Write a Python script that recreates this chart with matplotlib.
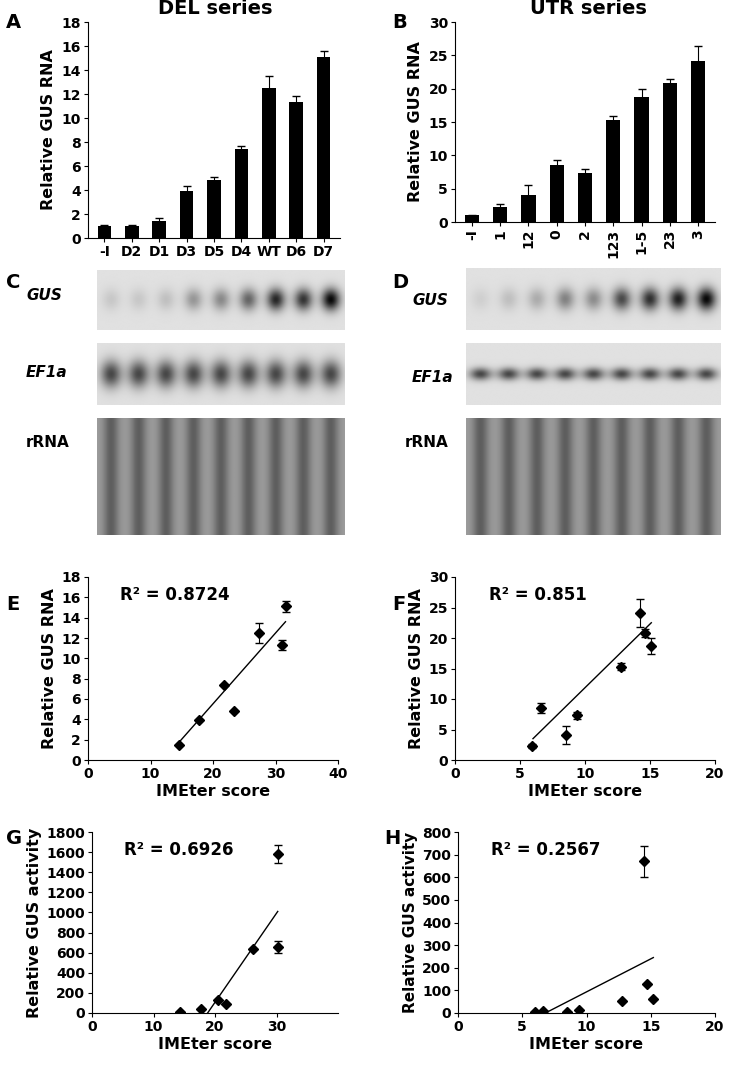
import numpy as np
import matplotlib
matplotlib.use("Agg")
import matplotlib.pyplot as plt

del_labels = ["-I", "D2", "D1", "D3", "D5", "D4", "WT", "D6", "D7"]
del_vals = [1.0, 1.0, 1.4, 3.9, 4.8, 7.4, 12.5, 11.3, 15.1]
del_err = [0.05, 0.05, 0.3, 0.4, 0.3, 0.3, 1.0, 0.5, 0.5]
utr_labels = ["-I", "1", "12", "0", "2", "123", "1-5", "23", "3"]
utr_vals = [1.0, 2.3, 4.1, 8.5, 7.3, 15.3, 18.7, 20.8, 24.1]
utr_err = [0.1, 0.4, 1.4, 0.8, 0.6, 0.6, 1.3, 0.7, 2.3]

e_x = [14.5, 17.8, 21.8, 23.3, 27.3, 31.1, 31.6]
e_y = [1.5, 3.9, 7.4, 4.8, 12.5, 11.3, 15.1]
e_err = [0, 0, 0, 0, 1.0, 0.5, 0.5]
f_x = [5.9, 6.6, 8.5, 9.4, 12.8, 14.2, 14.6, 15.1]
f_y = [2.3, 8.5, 4.1, 7.3, 15.3, 24.1, 20.8, 18.7]
f_err = [0.4, 0.8, 1.4, 0.6, 0.6, 2.3, 0.7, 1.3]
g_x = [14.3, 17.8, 20.5, 21.8, 26.2, 30.2, 30.2]
g_y = [10, 40, 130, 90, 640, 1580, 660]
g_err = [0, 0, 0, 0, 0, 90, 60]
h_x = [6.0, 6.6, 8.5, 9.4, 12.8, 14.5, 14.7, 15.2]
h_y = [5, 10, 5, 15, 55, 670, 130, 60]
h_err = [0, 0, 0, 0, 0, 70, 0, 0]

W, H = 750, 1066
fig = plt.figure(figsize=(7.5, 10.66), dpi=100)

def ax_px(x0, y0, x1, y1):
    return fig.add_axes([x0 / W, 1 - y1 / H, (x1 - x0) / W, (y1 - y0) / H])

def style(ax):
    for s in ["top", "right"]:
        ax.spines[s].set_visible(False)
    ax.tick_params(labelsize=10, direction="out", length=3, pad=2)
    for t in ax.get_xticklabels() + ax.get_yticklabels():
        t.set_fontweight("bold")

def bars(ax, labels, vals, err, ymax, step, rot):
    x = np.arange(len(vals))
    ax.bar(x, vals, width=0.5, color="black", yerr=err,
           error_kw=dict(ecolor="black", elinewidth=0.8, capsize=3))
    ax.set_xlim(-0.6, len(vals) - 0.4)
    ax.set_ylim(0, ymax)
    ax.set_yticks(np.arange(0, ymax + 0.1, step))
    ax.set_xticks(x)
    ax.set_xticklabels(labels, rotation=rot)
    ax.set_ylabel("Relative GUS RNA", fontsize=11.5, fontweight="bold", labelpad=4)
    style(ax)

axA = ax_px(88, 22, 340, 238)
bars(axA, del_labels, del_vals, del_err, 18, 2, 0)
axB = ax_px(455, 22, 715, 222)
bars(axB, utr_labels, utr_vals, utr_err, 30, 5, 90)

def blot(x0, x1, rows, vals, wide):
    n = len(vals)
    vmax = max(vals)
    for (y0, y1, kind) in rows:
        ax = ax_px(x0, y0, x1, y1)
        nx, ny = 300, 80
        xx, yy = np.meshgrid(np.linspace(0, n, nx), np.linspace(0, 1, ny))
        img = np.full((ny, nx), 0.88 if kind != "r" else 0.62)
        for i, v in enumerate(vals):
            cx = i + 0.5
            if kind == "g":
                a = 0.85 * (v / vmax) ** 0.8
                img -= a * np.exp(-((xx - cx) / 0.33) ** 2 - ((yy - 0.5) / 0.18) ** 2)
            elif kind == "e":
                img -= 0.6 * np.exp(-((xx - cx) / 0.38) ** 2 - ((yy - 0.5) / (0.22 if wide else 0.1)) ** 2)
            else:
                img -= 0.25 * np.exp(-((xx - cx) / 0.28) ** 2)
        ax.imshow(np.clip(img, 0, 1), cmap="gray", vmin=0, vmax=1, aspect="auto")
        ax.axis("off")

blot(97, 345, [(270, 330, "g"), (343, 405, "e"), (418, 535, "r")], del_vals, True)
blot(466, 720, [(268, 330, "g"), (343, 405, "e"), (418, 535, "r")], utr_vals, False)
fig.text(26 / W, 1 - 300 / H, "GUS", fontsize=11, fontweight="bold", style="italic")
fig.text(26 / W, 1 - 377 / H, "EF1a", fontsize=11, fontweight="bold", style="italic")
fig.text(26 / W, 1 - 447 / H, "rRNA", fontsize=11, fontweight="bold")
fig.text(412 / W, 1 - 305 / H, "GUS", fontsize=11, fontweight="bold", style="italic")
fig.text(412 / W, 1 - 382 / H, "EF1a", fontsize=11, fontweight="bold", style="italic")
fig.text(405 / W, 1 - 447 / H, "rRNA", fontsize=11, fontweight="bold")

def scat(ax, x, y, err, xmax, xstep, ymax, ystep, ylabel, r2, line, yfs=11.5):
    ax.errorbar(x, y, yerr=err, fmt="D", color="black", ms=5,
                ecolor="black", elinewidth=0.8, capsize=3)
    ax.plot(line[0], line[1], color="black", lw=1)
    ax.set_xlim(0, xmax)
    ax.set_ylim(0, ymax)
    ax.set_xticks(np.arange(0, xmax + 0.1, xstep))
    ax.set_yticks(np.arange(0, ymax + 0.1, ystep))
    ax.set_xlabel("IMEter score", fontsize=11.5, fontweight="bold", labelpad=2)
    ax.set_ylabel(ylabel, fontsize=yfs, fontweight="bold", labelpad=3)
    ax.text(0.13, 0.9, r2, transform=ax.transAxes, fontsize=12, fontweight="bold", va="center")
    style(ax)

axE = ax_px(88, 577, 338, 760)
scat(axE, e_x, e_y, e_err, 40, 10, 18, 2, "Relative GUS RNA", "R² = 0.8724", ([14.5, 31.6], [1.7, 13.6]))
axF = ax_px(455, 577, 715, 760)
scat(axF, f_x, f_y, f_err, 20, 5, 30, 5, "Relative GUS RNA", "R² = 0.851", ([6.0, 15.1], [3.5, 22.5]))
axG = ax_px(92, 832, 338, 1013)
scat(axG, g_x, g_y, g_err, 40, 10, 1800, 200, "Relative GUS activity", "R² = 0.6926", ([18.8, 30.2], [0, 1010]))
axG.set_xticks([0, 10, 20, 30])
style(axG)
axH = ax_px(458, 832, 715, 1013)
scat(axH, h_x, h_y, h_err, 20, 5, 800, 100, "Relative GUS activity", "R² = 0.2567", ([6.8, 15.2], [0, 245]), yfs=11)

for lab, x, y in [("A", 6, 22), ("B", 392, 22), ("C", 6, 283), ("D", 392, 283),
                  ("E", 6, 605), ("F", 392, 605), ("G", 6, 838), ("H", 384, 838)]:
    fig.text(x / W, 1 - y / H, lab, fontsize=14, fontweight="bold", va="center")
fig.text(215 / W, 1 - 9 / H, "DEL series", fontsize=14, fontweight="bold", ha="center", va="center")
fig.text(588 / W, 1 - 9 / H, "UTR series", fontsize=14, fontweight="bold", ha="center", va="center")

fig.savefig("out.png", dpi=100)
